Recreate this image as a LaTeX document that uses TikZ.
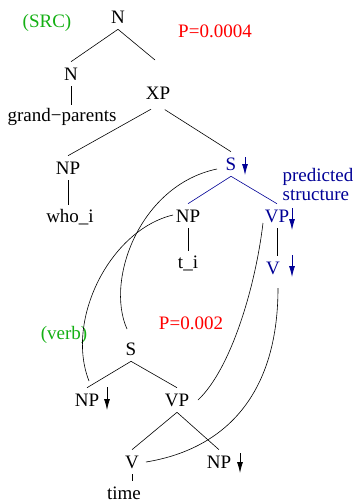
\documentclass[tikz,border=0pt]{standalone}
\usepackage{fontspec}
\setmainfont{Liberation Serif}
\usepackage{tikz}
\usetikzlibrary{arrows.meta}
\definecolor{srcgreen}{RGB}{20,176,20}
\definecolor{predblue}{RGB}{0,0,150}
\begin{document}
\begin{tikzpicture}[x=1pt,y=-1pt,line width=0.6pt,
	font=\fontsize{19}{19}\selectfont,
	lbl/.style={inner sep=0pt, minimum height=24pt},
	down/.style={-{Latex[length=11pt,width=6pt]}, line width=0.8pt}]
	\useasboundingbox (0,0) rectangle (355,504);
	
	% Upper tree
	\node[lbl] (ntop) at (118,17) {N};
	\node[lbl] (n2) at (71,74) {N};
	\node[lbl] (xp) at (158,93) {XP};
	\node[lbl] (gp) at (62,117) {grand−parents};
	\node[lbl] (npw) at (68,168) {NP};
	\node[lbl] (who) at (70,217) {who\_i};
	\coordinate (xpstub) at (155,60);
	\draw (ntop.south) -- (n2.north);
	\draw (ntop.south) -- (xpstub);
	\draw (n2.south) -- (n2.south |- gp.north);
	\draw[shorten <=8pt] (xp.south) -- (npw.north);
	\draw (npw.south) -- (npw.south |- who.north);
	
	% Labels
	\node[lbl, text=srcgreen] (src) at (47,23) {(SRC)};
	\node[lbl, text=red] (p1) at (215,31) {P=0.0004};
	\node[lbl, text=srcgreen] (verb) at (64,335) {(verb)};
	\node[lbl, text=red] (p2) at (191,323) {P=0.002};
	
	% Predicted structure
	\node[lbl, text=predblue] (su) at (231,164) {S};
	\node[text=predblue, align=left, inner sep=0pt, font=\fontsize{19}{19}\selectfont] (pred) at (318,184) {predicted\\structure};
	\node[lbl] (npt) at (188,216) {NP};
	\node[lbl] (ti) at (188,263) {t\_i};
	\node[lbl, text=predblue] (vpu) at (277,216) {VP};
	\node[lbl, text=predblue] (vu) at (273,268) {V};
	\draw[shorten <=8pt] (xp.south) -- (su.north);
	\draw[predblue] (su.south) -- (npt.north);
	\draw[predblue] (su.south) -- (vpu.north);
	\draw (npt.south) -- (ti.north);
	\draw (vpu.south) -- (vpu.south |- vu.north);
	\draw[down, predblue] ([xshift=14pt]su.center) ++(0,-7) -- ++(0,18);
	\draw[down, predblue] ([xshift=15pt]vpu.center) ++(0,-8) -- ++(0,22);
	\draw[down, predblue] ([xshift=19pt]vu.center) ++(0,-13) -- ++(0,22);
	
	% Verb tree
	\node[lbl] (sl) at (131,349) {S};
	\node[lbl] (npl) at (87,400) {NP};
	\node[lbl] (vpl) at (177,400) {VP};
	\node[lbl] (vl) at (132,462) {V};
	\node[lbl] (npr) at (219,462) {NP};
	\node[lbl] (time) at (124,493) {time};
	\draw (sl.south) -- (npl.north);
	\draw (sl.south) -- (vpl.north);
	\draw (vpl.south) -- (vl.north);
	\draw (vpl.south) -- (npr.north);
	\draw (vl.south) -- (vl.south |- time.north);
	\draw[down] ([xshift=20pt]npl.center) ++(0,-13) -- ++(0,23);
	\draw[down] ([xshift=21pt]npr.center) ++(0,-9) -- ++(0,20);
	
	% Links between the trees
	\draw ([shift={(-14,5)}]su.center) .. controls (140,185) and (105,280) .. ([shift={(-4,-20)}]sl.center);
	\draw ([shift={(-15,-1)}]npt.center) .. controls (110,230) and (65,320) .. ([shift={(2,-19)}]npl.center);
	\draw ([shift={(-14,7)}]vpu.center) .. controls (255,290) and (230,370) .. ([shift={(21,0)}]vpl.center);
	\draw ([shift={(5,20)}]vu.center) .. controls (278,400) and (220,450) .. ([shift={(14,0)}]vl.center);
\end{tikzpicture}
\end{document}
